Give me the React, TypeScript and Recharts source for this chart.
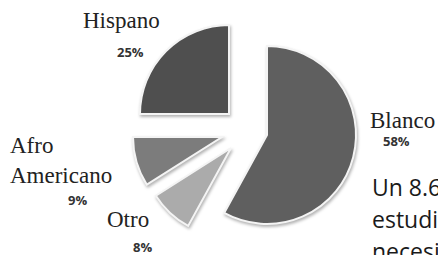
import { Cell, Pie, PieChart } from "recharts";

const groups = ["Blanco", "Otro", "Afro Americano", "Hispano"];
const shares = [58, 8, 9, 25];
const shades = ["#5f5f5f", "#ababab", "#7c7c7c", "#4f4f4f"];

// exploded slice apex per group (px in chart)
const apex = [
  { x: 267, y: 135 },
  { x: 231, y: 148 },
  { x: 222, y: 137 },
  { x: 229, y: 114 },
];

// label anchors: name lines + percent
const labelPos = [
  { nx: 370, ny: 128, px: 383, py: 146 },
  { nx: 107, ny: 227, px: 133, py: 252 },
  { nx: 10, ny: 153, px: 68, py: 205 },
  { nx: 83, ny: 28, px: 117, py: 57 },
];

const note = ["Un 8.6% de los", "estudiantes", "necesitan"];

const data = groups.map((name, i) => ({ name, value: shares[i] }));

const serif = "'Liberation Serif', 'Times New Roman', serif";

function renderLabel(props: any) {
  const i = props.index;
  const p = labelPos[i];
  const words = groups[i] === "Afro Americano" ? ["Afro", "Americano"] : [groups[i]];
  return (
    <g key={`lbl-${i}`}>
      {words.map((w, k) => (
        <text key={w} x={p.nx} y={p.ny + k * 30} fontFamily={serif} fontSize={23} fill="#222">
          {w}
        </text>
      ))}
      <text x={p.px} y={p.py} fontFamily="'Open Sans', sans-serif" fontSize={13} fontWeight={700} fill="#333">
        {`${shares[i]}%`}
      </text>
    </g>
  );
}

export default function App() {
  return (
    <div style={{ position: "absolute", left: 0, top: 0, width: 438, height: 255, overflow: "hidden", background: "#fff" }}>
      <style>{`.recharts-pie-sector path { filter: drop-shadow(1px 2px 1.5px rgba(0,0,0,0.3)); }`}</style>
      <PieChart width={438} height={255} margin={{ top: 0, right: 0, bottom: 0, left: 0 }}>
        {apex.map((a, si) => (
          <Pie
            key={groups[si]}
            data={data}
            dataKey="value"
            cx={a.x}
            cy={a.y}
            outerRadius={89}
            startAngle={90}
            endAngle={-270}
            isAnimationActive={false}
            label={si === 0 ? renderLabel : false}
            labelLine={false}
          >
            {data.map((d, i) => (
              <Cell
                key={d.name}
                fill={i === si ? shades[i] : "none"}
                stroke={i === si ? "#f4f4f4" : "none"}
                strokeWidth={2}
              />
            ))}
          </Pie>
        ))}
      </PieChart>
      <div
        style={{
          position: "absolute",
          left: 372,
          top: 171,
          fontFamily: "'Open Sans', sans-serif",
          fontSize: 23,
          lineHeight: "32px",
          color: "#1a1a1a",
          whiteSpace: "nowrap",
        }}
      >
        {note.map((l) => (
          <div key={l}>{l}</div>
        ))}
      </div>
    </div>
  );
}
